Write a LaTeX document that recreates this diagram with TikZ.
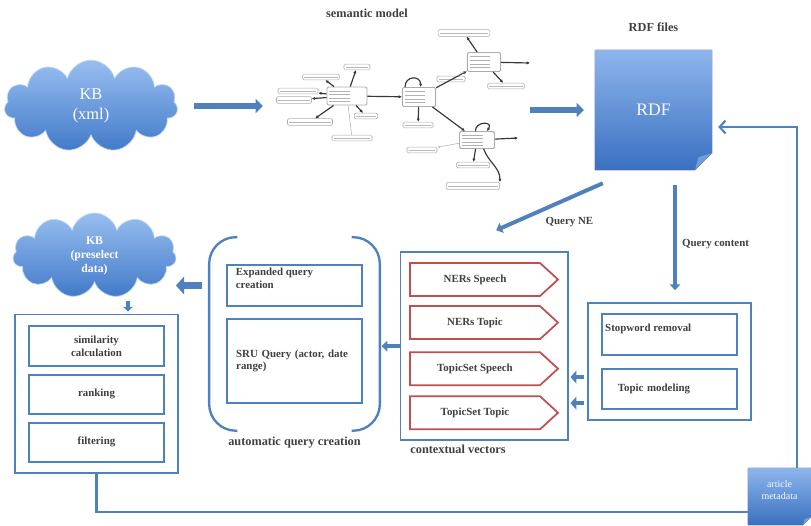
\documentclass[tikz,border=0pt]{standalone}
\usepackage{fontspec}
\setmainfont{Liberation Serif}
\usepackage{tikz}
\usetikzlibrary{positioning,arrows.meta,fit,backgrounds,shapes.symbols,calc}
\definecolor{lineblue}{RGB}{79,129,189}
\definecolor{cloudtop}{RGB}{152,190,240}
\definecolor{cloudbot}{RGB}{66,122,200}
\definecolor{sheettop}{RGB}{142,182,236}
\definecolor{sheetbot}{RGB}{58,112,192}
\definecolor{sheetfold}{RGB}{110,156,220}
\definecolor{vecred}{RGB}{192,80,77}
\definecolor{inkgray}{RGB}{64,64,64}
\definecolor{graphgray}{RGB}{55,55,55}
\newcommand{\boxfont}{\fontsize{9.3}{10.8}\selectfont\bfseries}
\newcommand{\capfont}{\fontsize{10.5}{12}\selectfont\bfseries}
% page with a folded bottom-right corner, drawn behind node #1
\newcommand{\foldsheet}[2]{%
  \fill[top color=sheettop, bottom color=sheetbot]
    (#1.north west) -- (#1.north east) -- ([yshift=#2]#1.south east)
    -- ([xshift=-#2]#1.south east) -- (#1.south west) -- cycle;
  \fill[sheetfold] ([yshift=#2]#1.south east) -- ([xshift=-#2]#1.south east)
    -- ([xshift=-0.8*#2, yshift=0.75*#2]#1.south east) -- cycle;
}
\tikzset{
  outerbox/.style ={rectangle, draw=lineblue, line width=1.5pt, inner xsep=0.39cm, inner ysep=0.32cm},
  stagebox/.style ={rectangle, draw=lineblue, line width=1.6pt, minimum width=4.05cm,
                    minimum height=1.2cm, align=center, font=\boxfont, text=inkgray},
  boxtext/.style  ={align=left, font=\boxfont, text=inkgray},
  vecarrow/.style ={signal, signal to=east, signal pointer angle=85, draw=vecred, line width=1.5pt,
                    minimum width=4.44cm, minimum height=0.99cm, font=\boxfont, text=inkgray},
  kbcloud/.style  ={cloud, cloud puffs=11, aspect=2, top color=cloudtop, bottom color=cloudbot,
                    draw=cloudtop!60!white, line width=0.6pt, text=white, align=center, inner sep=0pt},
  sheet/.style    ={rectangle, inner sep=0pt, text=white!92!cloudtop},
  titletext/.style={font=\capfont, text=inkgray},
  labeltext/.style={font=\capfont, text=inkgray},
  flowtext/.style ={font=\boxfont, text=inkgray},
  fat/.style      ={-{Triangle[length=6pt,width=12pt]}, line width=5pt, draw=lineblue},
  qarrow/.style   ={-{Triangle[length=5pt,width=9pt]}, line width=3.4pt, draw=lineblue},
  stub/.style     ={-{Triangle[length=5pt,width=11pt]}, line width=4pt, draw=lineblue},
  tiny/.style     ={-{Triangle[length=4pt,width=8pt]}, line width=2.6pt, draw=lineblue},
  backline/.style ={line width=1.8pt, draw=lineblue},
  bracket/.style  ={line width=2pt, draw=lineblue, rounded corners=0.8cm},
  % the small RDF graph
  gnode/.style    ={rectangle, rounded corners=1.2pt, draw=gray!65, fill=white, line width=0.5pt, inner sep=0pt},
  ghub/.style     ={gnode, minimum width=1.0cm, minimum height=0.55cm, line width=0.8pt,
                    path picture={\foreach \f in {0.22,0.42,0.62,0.8}
                      \draw[gray!60, line width=0.5pt]
                        ($(path picture bounding box.north west)!\f!(path picture bounding box.south west)+(2pt,0)$)
                        -- +(0.62cm,0);}},
  gleaf/.style    ={gnode, minimum width=#1, minimum height=0.17cm,
                    path picture={\draw[gray!55, line width=0.6pt]
                      ([xshift=1.5pt]path picture bounding box.west) -- ([xshift=-1.5pt]path picture bounding box.east);}},
  gedge/.style    ={-{Latex[length=2.8pt,width=2.8pt]}, draw=graphgray, line width=1pt},
  gthin/.style    ={draw=gray!70, line width=0.4pt},
}

\begin{document}
\begin{tikzpicture}[x=0.03cm, y=-0.03cm, node distance=0.3cm]
  \useasboundingbox (0,0) rectangle (811,525);

  % --- top row: KB, semantic model, RDF files
  \node[kbcloud, minimum width=5.2cm, minimum height=2.75cm,
        font=\fontsize{14}{16.5}\selectfont] (kbxml) at (91,106) {KB\\(xml)};
  \node[inner sep=0pt, minimum width=7.6cm, minimum height=4.92cm] (sem) at (403,110) {};
  \node[titletext] (semtitle) at (367,13) {semantic model};

  \node[ghub, minimum width=1.2cm, minimum height=0.54cm] (ga) at (347,96) {};
  \node[ghub, minimum height=0.57cm] (gb) at (419,97) {};
  \node[ghub, minimum height=0.57cm] (gc) at (484,62) {};
  \node[ghub, minimum width=1.05cm, minimum height=0.51cm] (gd) at (477,140) {};
  \node[gleaf=0.78cm] (ga1) at (357,67) {};
  \node[gleaf=1.1cm]  (ga2) at (321,77) {};
  \node[gleaf=1.2cm]  (ga3) at (298,91) {};
  \node[gleaf=1.05cm, minimum height=0.2cm] (ga4) at (294,100) {};
  \node[gleaf=1.35cm, minimum height=0.2cm] (ga5) at (310,122) {};
  \node[gleaf=1.2cm]  (ga6) at (352,138) {};
  \node[gleaf=0.7cm]  (ga7) at (366,116) {};
  \node[gleaf=0.9cm]  (gb1) at (418,125) {};
  \node[gleaf=1.55cm, minimum height=0.2cm] (gc1) at (464,33) {};
  \node[gleaf=0.85cm] (gc2) at (451,79) {};
  \node[gleaf=1.1cm]  (gc3) at (506,86) {};
  \node[gleaf=0.9cm]  (gd1) at (422,150) {};
  \node[gleaf=1.0cm]  (gd2) at (473,165) {};
  \node[gleaf=1.6cm, minimum height=0.22cm] (gd3) at (473,186) {};
  \coordinate (gcout) at (530,63);
  \coordinate (gdout) at (518,138);

  \foreach \leaf in {ga1,ga2,ga3,ga4,ga5,ga7}
    \draw[gedge] (ga) -- (\leaf);
  \draw[gthin] (ga) -- (ga6);
  \draw[gedge] (ga) -- (gb);
  \draw[gedge] (gb) -- (gb1);
  \draw[gedge] (gb) -- (gc);
  \draw[gedge] (gb) -- (gd);
  \foreach \leaf in {gc1,gc3}
    \draw[gedge] (gc) -- (\leaf);
  \draw[gthin] (gc) -- (gc2);
  \draw[gedge] (gc) -- (gcout);
  \draw[gedge] (gd) -- (gd2);
  \draw[gthin, -{Latex[length=2pt]}] (gd) -- (gd1);
  \draw[gedge] (gd) -- (gdout);
  \draw[gedge] ([xshift=0.2cm]gd.south) to[out=-70, in=90] (gd3.north east);
  \draw[gedge] ([xshift=-0.42cm]gb.north) .. controls +(0,0.35cm) and +(0,0.35cm) .. ([xshift=0.05cm]gb.north);
  \draw[gedge] ([xshift=-0.05cm]gd.north) .. controls +(0,0.3cm) and +(0.2cm,0.3cm) .. ([xshift=0.3cm]gd.north);

  \node[sheet, minimum width=3.51cm, minimum height=3.6cm,
        font=\fontsize{15}{18}\selectfont] (rdf) at (653.5,110) {RDF\\[8pt]};
  \node[titletext, above=0.42cm of rdf] (rdftitle) {RDF files};
  \begin{scope}[on background layer]
    \foldsheet{rdf}{0.52cm}
  \end{scope}

  \draw[fat, shorten <=0.5cm, shorten >=0.4cm] (kbxml.east) -- (kbxml.east -| sem.west);
  \draw[fat, shorten >=0.33cm] (sem.east |- rdf.west) -- (rdf.west);

  % --- contextual vectors
  \node[vecarrow] (nsp) at (475,279.5) {NERs Speech};
  \node[vecarrow, below=0.25cm of nsp] (ntp) {NERs Topic};
  \node[vecarrow, below=0.34cm of ntp] (tsp) {TopicSet Speech};
  \node[vecarrow, below=0.28cm of tsp] (ttp) {TopicSet Topic};
  \node[outerbox, inner xsep=0.26cm, inner ysep=0.3cm, fit=(nsp)(ttp)] (ctx) {};
  \node[labeltext, anchor=north west] (ctxlabel) at ([xshift=0.2cm]ctx.south west) {contextual vectors};

  % --- content processing
  \node[stagebox, minimum height=1.23cm] (stop) at (669.5,334.5) {};
  \node[boxtext, anchor=north west] (stoptext) at ([yshift=-0.2cm]stop.north west) {Stopword removal};
  \node[stagebox, minimum height=1.2cm, text width=3.1cm, inner xsep=0.475cm, align=left,
        below=0.36cm of stop] (topic) {Topic modeling};
  \node[outerbox, inner xsep=0.4cm, inner ysep=0.3cm, fit=(stop)(topic)] (proc) {};

  \coordinate (qtop) at ($(rdf.south)+(21.5,15)$);
  \draw[qarrow, shorten >=0.36cm] (qtop) -- (qtop |- proc.north)
    node[flowtext, midway, right, xshift=1pt] (qclabel) {Query content};
  \draw[qarrow] ($(rdf.south west)+(8,13)$) -- ($(ctx.north)+(12,-21)$)
    node[flowtext, midway, anchor=north, xshift=17pt, yshift=-4pt] (nelabel) {Query NE};

  \draw[stub, shorten >=0.05cm] ([shift={(-0.08cm,-0.47cm)}]proc.west) -- ([yshift=-0.47cm]proc.west -| ctx.east);
  \draw[stub, shorten >=0.05cm] ([shift={(-0.08cm,-1.25cm)}]proc.west) -- ([yshift=-1.25cm]proc.west -| ctx.east);

  % --- automatic query creation
  \node[stagebox, minimum height=1.23cm] (expbox) at (294.5,285.5) {};
  \node[boxtext, anchor=north west] (exptext) at ([xshift=0.17cm]expbox.north west) {Expanded query\\creation};
  \node[stagebox, minimum height=2.52cm, text width=3.5cm, inner xsep=0.27cm, align=left,
        below=0.33cm of expbox] (srubox) {SRU Query (actor, date\\range)};
  \node[inner xsep=0.5cm, inner ysep=0.8cm, fit=(expbox)(srubox)] (query) {};
  \draw[bracket] ([xshift=0.85cm]query.north west) -- (query.north west)
    -- (query.south west) -- ([xshift=0.85cm]query.south west);
  \draw[bracket] ([xshift=-0.85cm]query.north east) -- (query.north east)
    -- (query.south east) -- ([xshift=-0.85cm]query.south east);
  \node[labeltext, below=0.05cm of query] (querylabel) {automatic query creation};
  \draw[qarrow, shorten >=0.05cm] (ctx.west) -- (ctx.west -| query.east);

  % --- retrieval from the KB
  \node[kbcloud, minimum width=4.9cm, minimum height=2.55cm,
        font=\fontsize{10}{12}\selectfont\bfseries] (kbpre) at (94.5,255.5) {KB\\(preselect\\data)};
  \node[stagebox] (simbox) at (96.5,346) {similarity\\calculation};
  \node[stagebox, minimum height=1.17cm, below=0.21cm of simbox] (rankbox) {ranking};
  \node[stagebox, minimum height=1.17cm, below=0.21cm of rankbox] (filtbox) {filtering};
  \node[outerbox, fit=(simbox)(filtbox)] (lbox) {};

  \draw[fat, line width=6pt, -{Triangle[length=7pt,width=15pt]}, shorten <=0.2cm]
    (expbox.west -| query.west) -- (expbox.west -| kbpre.east);
  \coordinate (dn) at ($(lbox.north)+(31.5,-13)$);
  \draw[tiny, shorten >=0.06cm] (dn) -- (dn |- lbox.north);

  % --- article metadata feeds back into the RDF
  \node[sheet, minimum width=1.89cm, minimum height=1.71cm, align=center,
        font=\fontsize{8.5}{10}\selectfont] (article) at (779.5,496.5) {article\\metadata\\[1pt]};
  \begin{scope}[on background layer]
    \foldsheet{article}{0.25cm}
  \end{scope}
  \draw[backline, -{Straight Barb[length=5pt,width=11pt]}, shorten >=0.18cm]
    ([xshift=0.53cm]article.north) |- ([yshift=-0.51cm]rdf.east);
  \draw[backline] (lbox.south) |- ([yshift=-0.47cm]article.west);
\end{tikzpicture}
\end{document}
